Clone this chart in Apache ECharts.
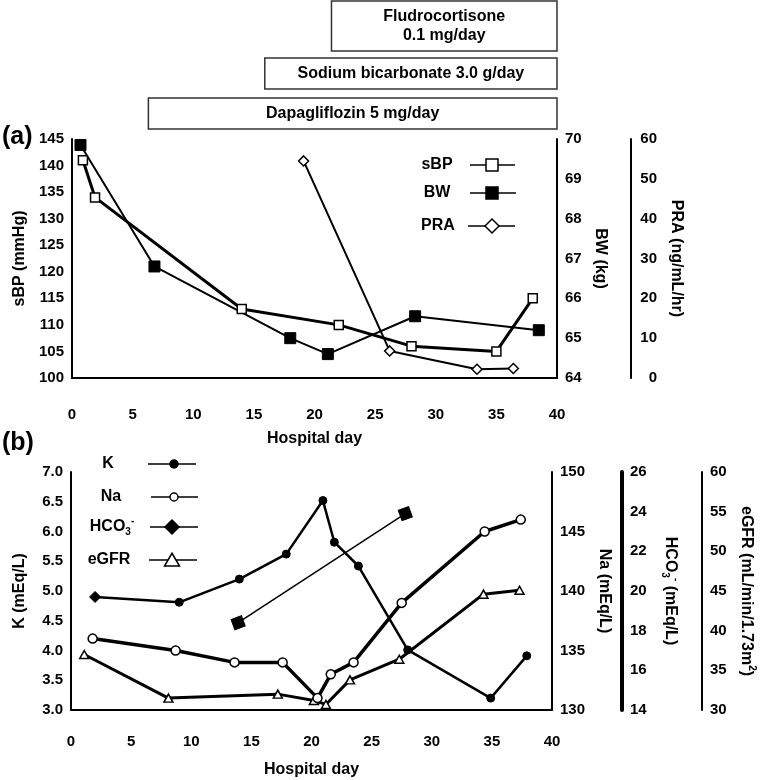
<!DOCTYPE html>
<html>
<head>
<meta charset="utf-8">
<script src="https://cdn.jsdelivr.net/npm/echarts@6/dist/echarts.min.js"></script>
<style>
  html, body { margin: 0; padding: 0; background: #fff; }
  #main { width: 765px; height: 780px; }
</style>
</head>
<body>
<div id="main"></div>
<script>
// ---- data ----
// panel (a)
const sbpDays = [0.9, 1.9, 14, 22, 28, 35, 38]
const sbpVals = [141, 134, 113, 110, 106, 105, 115]
const bwDays = [0.7, 6.8, 18, 21.1, 28.3, 38.5]
const bwVals = [69.85, 66.8, 65.0, 64.6, 65.55, 65.2]
const praDays = [19.1, 26.2, 33.4, 36.4]
const praVals = [54.5, 6.8, 2.2, 2.4]

// panel (b)
const kDays = [2, 9, 14, 17.9, 20.95, 21.9, 23.9, 28, 34.9, 37.9]
const kVals = [4.9, 4.81, 5.2, 5.62, 6.52, 5.82, 5.42, 4.01, 3.2, 3.91]
const naDays = [1.8, 8.7, 13.6, 17.6, 20.5, 21.6, 23.5, 27.5, 34.4, 37.4]
const naVals = [136, 135, 134, 134, 131, 133, 134, 139, 145, 146]
const hco3Days = [13.9, 27.8]
const hco3Vals = [18.4, 23.9]
const egfrDays = [1.1, 8.1, 17.2, 20.2, 21.2, 23.2, 27.3, 34.3, 37.3]
const egfrVals = [37.0, 31.5, 32.0, 31.2, 30.7, 33.8, 36.4, 44.6, 45.1]

// treatment bars (start day, label lines)
const treatments = [
  {start: 21.4, lines: ['Fludrocortisone', '0.1 mg/day']},
  {start: 15.9, lines: ['Sodium bicarbonate 3.0 g/day']},
  {start: 6.3, lines: ['Dapagliflozin 5 mg/day']}
]

const FONT = '"Liberation Sans", Arial, sans-serif'
const pair = (xs, ys) => xs.map((x, i) => [x, ys[i]])

const chart = echarts.init(document.getElementById('main'))

const richSubSup = {
  n: {fontFamily: FONT, fontWeight: 'bold', fontSize: 16, color: '#000', lineHeight: 21},
  sub: {fontFamily: FONT, fontWeight: 'bold', fontSize: 10, color: '#000', verticalAlign: 'bottom', lineHeight: 12},
  sup: {fontFamily: FONT, fontWeight: 'bold', fontSize: 10, color: '#000', verticalAlign: 'top', lineHeight: 12}
}

const tickLabel = {color: '#000', fontFamily: FONT, fontWeight: 'bold', fontSize: 15, margin: 8}

// 坐标轴通用样式
const valueAxis = (extra) => Object.assign({
  type: 'value',
  axisLine: {show: true, onZero: false, lineStyle: {color: '#000', width: 2}},
  axisTick: {show: false},
  splitLine: {show: false},
  axisLabel: tickLabel,
  nameLocation: 'middle',
  nameTextStyle: {color: '#000', fontFamily: FONT, fontWeight: 'bold', fontSize: 16}
}, extra)

const openStyle = {color: '#fff', borderColor: '#000', borderWidth: 1.5}
const filledStyle = {color: '#000', borderColor: '#000', borderWidth: 1}

const option = {
  animation: false,
  backgroundColor: '#fff',
  grid: [
    {left: 72, width: 485, top: 139, height: 239},
    {left: 71, width: 491, top: 472, height: 238}
  ],
  xAxis: [
    valueAxis({gridIndex: 0, min: 0, max: 40, interval: 5, name: 'Hospital day', nameGap: 53,
      axisLabel: Object.assign({}, tickLabel, {margin: 29})}),
    valueAxis({gridIndex: 1, min: 0, max: 40, interval: 5, name: 'Hospital day', nameGap: 52,
      axisLabel: Object.assign({}, tickLabel, {margin: 24})})
  ],
  yAxis: [
    valueAxis({gridIndex: 0, min: 100, max: 145, interval: 5, position: 'left', name: 'sBP (mmHg)', nameGap: 44}),
    valueAxis({gridIndex: 0, min: 64, max: 70, interval: 1, position: 'right', name: 'BW (kg)', nameRotate: -90, nameGap: 29}),
    valueAxis({gridIndex: 0, min: 0, max: 60, interval: 10, position: 'right', offset: 74, name: 'PRA (ng/mL/hr)', nameRotate: -90, nameGap: 37,
      axisLabel: Object.assign({}, tickLabel, {margin: 26, align: 'right'})}),
    valueAxis({gridIndex: 1, min: 3, max: 7, interval: 0.5, position: 'left', name: 'K (mEq/L)', nameGap: 43,
      axisLabel: Object.assign({}, tickLabel, {formatter: v => v.toFixed(1)})}),
    valueAxis({gridIndex: 1, min: 130, max: 150, interval: 5, position: 'right', name: 'Na (mEq/L)', nameRotate: -90, nameGap: 35}),
    valueAxis({gridIndex: 1, min: 14, max: 26, interval: 2, position: 'right', offset: 70,
      axisLine: {show: true, onZero: false, lineStyle: {color: '#000', width: 4}},
      name: '{n|HCO}{sub|3}{sup|-}{n| (mEq/L)}', nameRotate: -90, nameGap: 38,
      nameTextStyle: {rich: richSubSup}}),
    valueAxis({gridIndex: 1, min: 30, max: 60, interval: 5, position: 'right', offset: 150,
      name: '{n|eGFR (mL/min/1.73m}{sup|2}{n|)}', nameRotate: -90, nameGap: 34,
      nameTextStyle: {rich: richSubSup}})
  ],
  series: [
    {name: 'BW', type: 'line', xAxisIndex: 0, yAxisIndex: 1, data: pair(bwDays, bwVals),
      symbol: 'rect', symbolSize: 11, itemStyle: filledStyle, lineStyle: {color: '#000', width: 2}},
    {name: 'PRA', type: 'line', xAxisIndex: 0, yAxisIndex: 2, data: pair(praDays, praVals),
      symbol: 'diamond', symbolSize: 10, itemStyle: openStyle, lineStyle: {color: '#000', width: 2}},
    {name: 'sBP', type: 'line', xAxisIndex: 0, yAxisIndex: 0, data: pair(sbpDays, sbpVals),
      symbol: 'rect', symbolSize: 9, itemStyle: openStyle, lineStyle: {color: '#000', width: 3}},

    {name: 'HCO3', type: 'line', xAxisIndex: 1, yAxisIndex: 5, data: pair(hco3Days, hco3Vals),
      symbol: 'rect', symbolSize: 11, symbolRotate: 20, itemStyle: filledStyle, lineStyle: {color: '#000', width: 1.5}},
    {name: 'eGFR', type: 'line', xAxisIndex: 1, yAxisIndex: 6, data: pair(egfrDays, egfrVals),
      symbol: 'triangle', symbolSize: [9, 8], itemStyle: openStyle, lineStyle: {color: '#000', width: 3}},
    {name: 'K', type: 'line', xAxisIndex: 1, yAxisIndex: 3,
      // first K point is drawn as a diamond in the original figure
      data: pair(kDays, kVals).map((d, i) => i === 0 ? {value: d, symbol: 'diamond', symbolSize: 11} : d),
      symbol: 'circle', symbolSize: 8, itemStyle: filledStyle, lineStyle: {color: '#000', width: 2.5}},
    {name: 'Na', type: 'line', xAxisIndex: 1, yAxisIndex: 4, data: pair(naDays, naVals),
      symbol: 'circle', symbolSize: 9, itemStyle: openStyle, lineStyle: {color: '#000', width: 3.5}}
  ]
}
chart.setOption(option)

// ---- legends, panel letters and treatment boxes as graphic elements ----
const symbolShape = (kind, cx, cy, s, filled) => {
  const style = {fill: filled ? '#000' : '#fff', stroke: '#000', lineWidth: 1.5}
  if (kind === 'rect') return {type: 'rect', shape: {x: cx - s / 2, y: cy - s / 2, width: s, height: s}, style}
  if (kind === 'circle') return {type: 'circle', shape: {cx, cy, r: s / 2}, style}
  if (kind === 'diamond') return {type: 'polygon', shape: {points: [[cx, cy - s / 2], [cx + s / 2, cy], [cx, cy + s / 2], [cx - s / 2, cy]]}, style}
  // triangle
  return {type: 'polygon', shape: {points: [[cx, cy - s * 0.45], [cx + s / 2, cy + s * 0.4], [cx - s / 2, cy + s * 0.4]]}, style}
}

const legendEntry = (label, y, textX, x1, x2, sx, kind, size, filled) => [
  {type: 'text', x: textX, y, style: {text: label, rich: richSubSup, fontFamily: FONT, fontWeight: 'bold', fontSize: 16,
    fill: '#000', align: 'center', verticalAlign: 'middle'}},
  {type: 'line', shape: {x1, y1: y, x2, y2: y}, style: {stroke: '#000', lineWidth: 1.5}},
  symbolShape(kind, sx, y, size, filled)
]

const graphics = []
graphics.push(...legendEntry('{n|sBP}', 165, 437, 470, 515, 492, 'rect', 12, false))
graphics.push(...legendEntry('{n|BW}', 193, 437, 470, 516, 492, 'rect', 12, true))
graphics.push(...legendEntry('{n|PRA}', 226, 438, 468, 515, 492, 'diamond', 14, false))

graphics.push(...legendEntry('{n|K}', 464, 108, 148, 196, 174, 'circle', 8, true))
graphics.push(...legendEntry('{n|Na}', 497, 111, 151, 198, 174, 'circle', 8, false))
graphics.push(...legendEntry('{n|HCO}{sub|3}{sup|-}', 527, 112, 150, 198, 172, 'diamond', 14, true))
graphics.push(...legendEntry('{n|eGFR}', 560, 109, 149, 197, 172, 'triangle', 15, false))

graphics.push({type: 'text', x: 2, y: 137, style: {text: '(a)', fontFamily: FONT, fontWeight: 'bold', fontSize: 25, fill: '#000', verticalAlign: 'middle'}})
graphics.push({type: 'text', x: 2, y: 443, style: {text: '(b)', fontFamily: FONT, fontWeight: 'bold', fontSize: 25, fill: '#000', verticalAlign: 'middle'}})

// 治疗条
const boxRows = [{top: 1, height: 50}, {top: 58, height: 31}, {top: 98, height: 31}]
const endX = chart.convertToPixel({xAxisIndex: 0}, 40)
treatments.forEach((t, i) => {
  const x0 = chart.convertToPixel({xAxisIndex: 0}, t.start)
  const row = boxRows[i]
  graphics.push({type: 'rect', shape: {x: x0, y: row.top, width: endX - x0, height: row.height},
    style: {fill: '#fff', stroke: '#333', lineWidth: 1.5}})
  graphics.push({type: 'text', x: (x0 + endX) / 2, y: row.top + row.height / 2,
    style: {text: t.lines.join('\n'), fontFamily: FONT, fontWeight: 'bold', fontSize: 16, lineHeight: 19,
      fill: '#000', align: 'center', verticalAlign: 'middle'}})
})

chart.setOption({graphic: graphics})
</script>
</body>
</html>
